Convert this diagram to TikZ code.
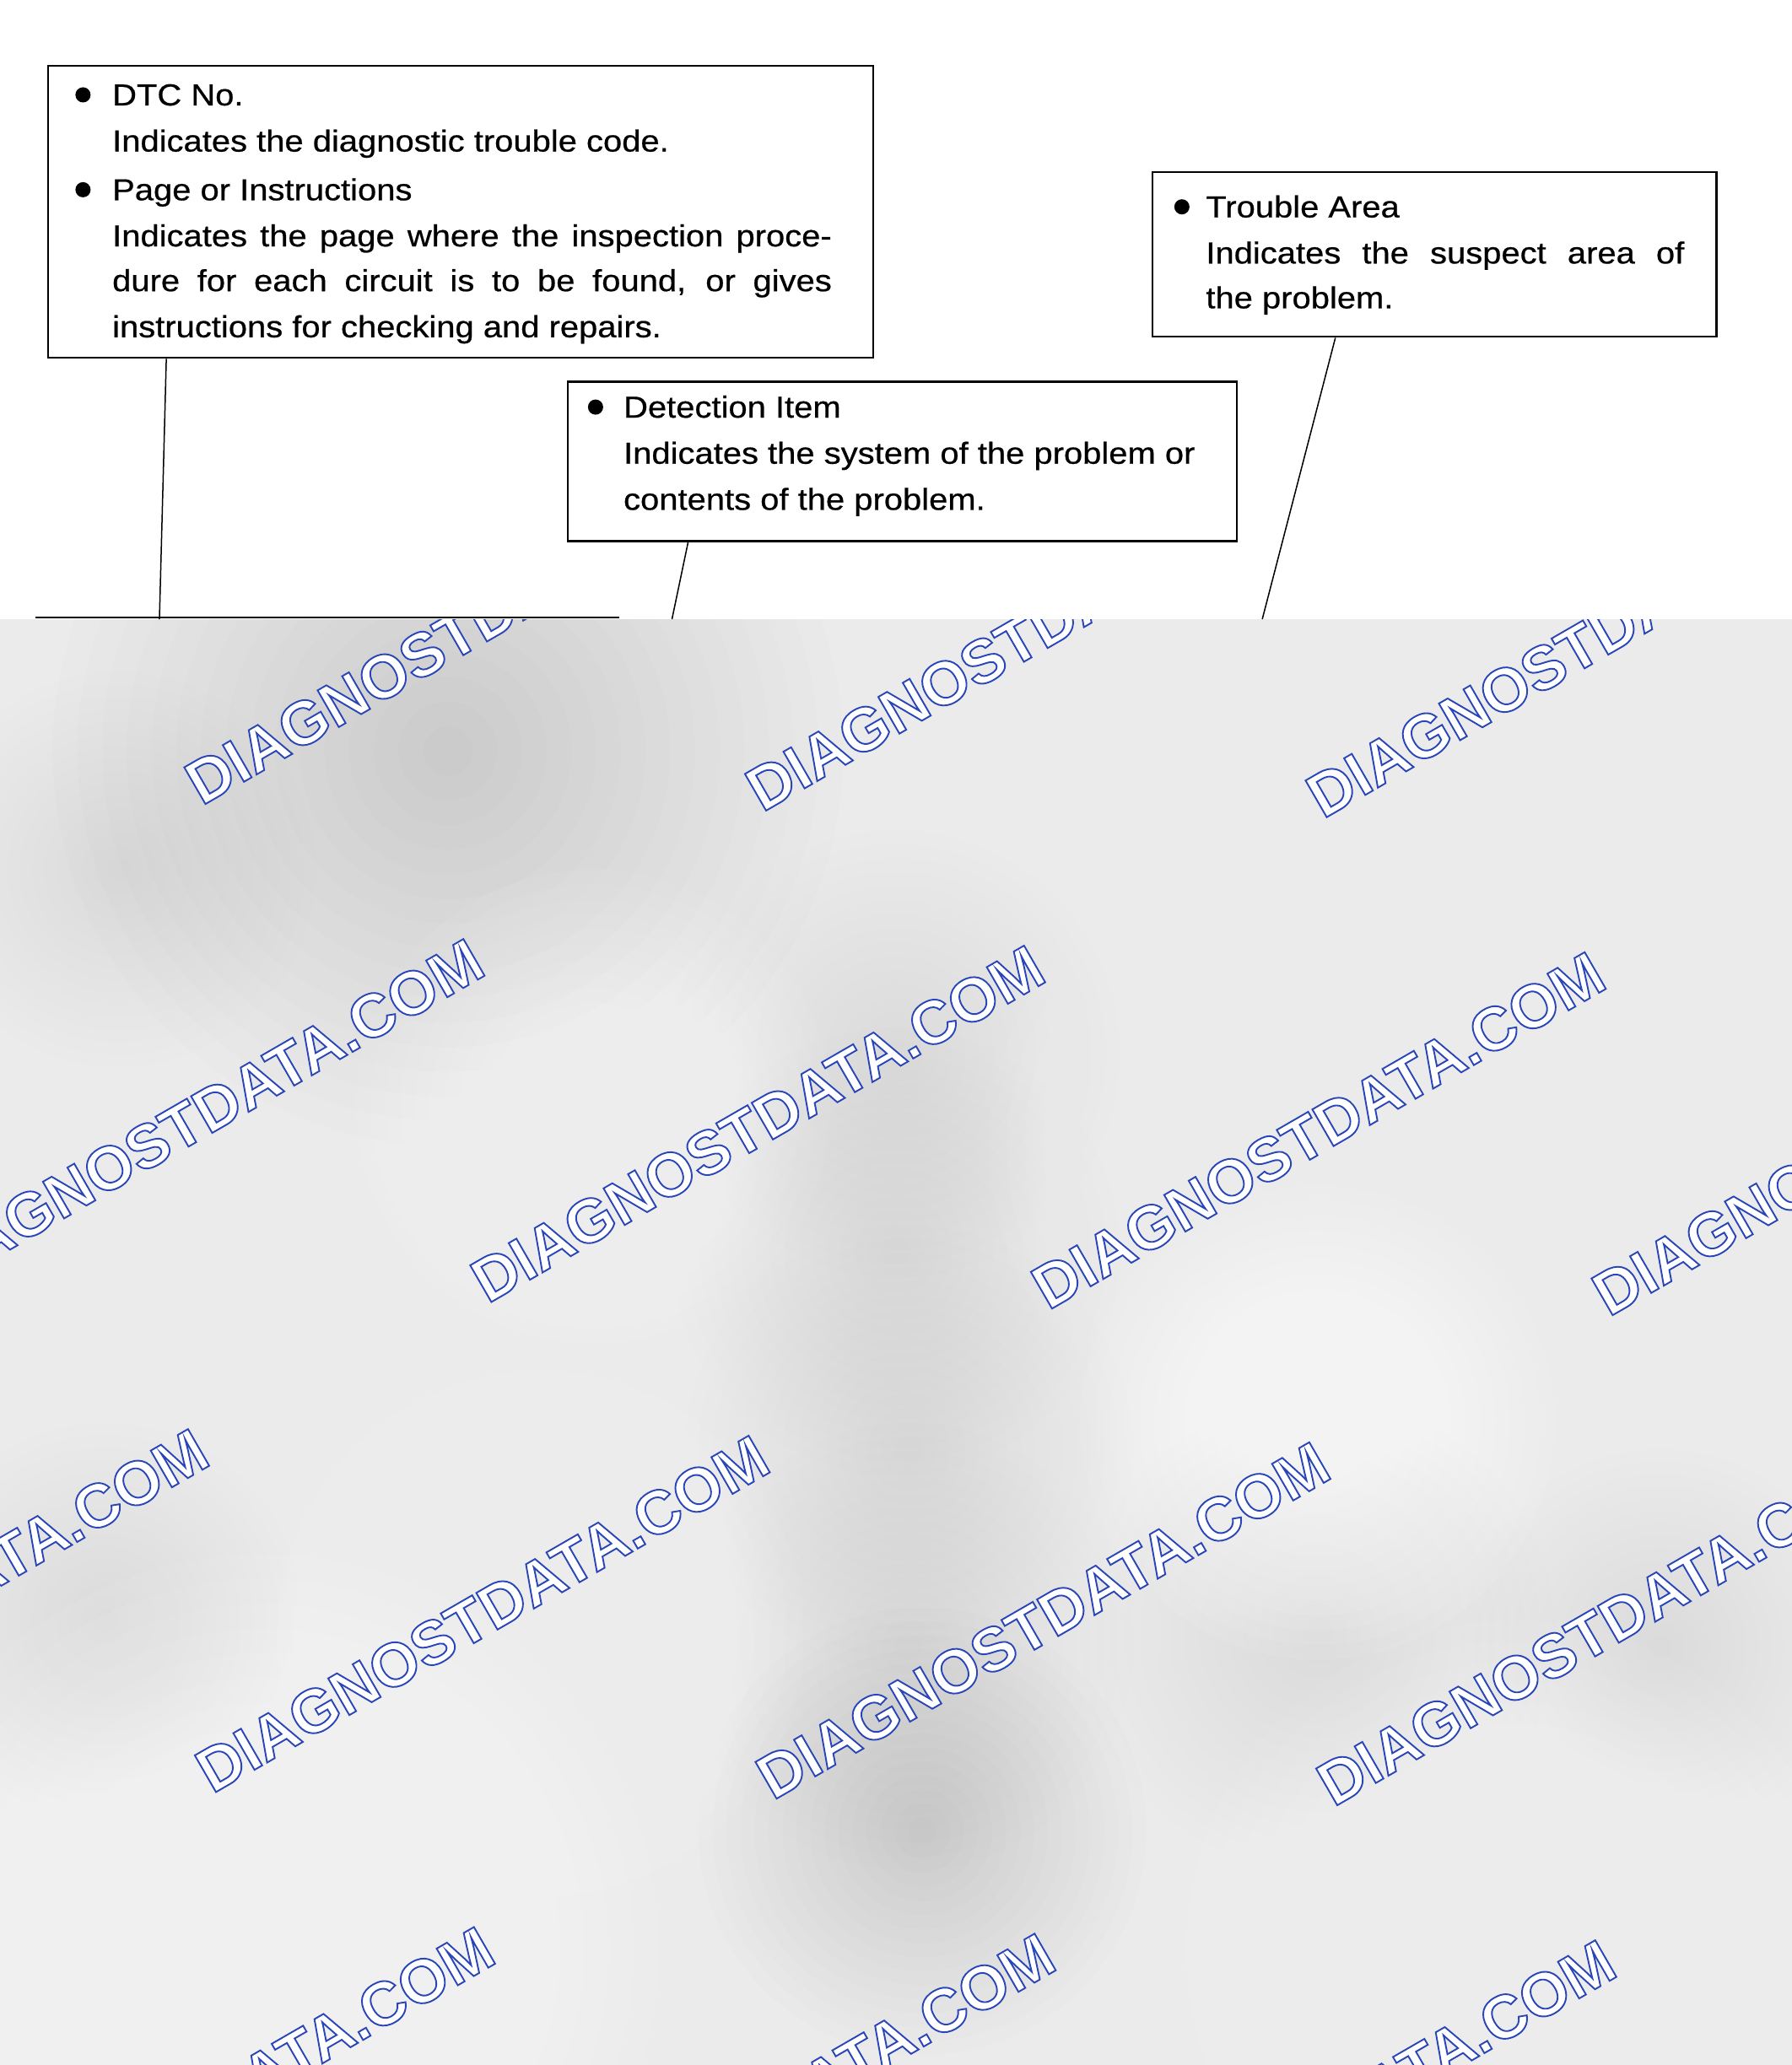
\documentclass[tikz,border=0pt]{standalone}
\usepackage{fontspec}
\setmainfont{Liberation Sans}
\newfontfamily\boxfont[FakeStretch=1.11,FakeBold=0.6]{Liberation Sans}
\newfontfamily\wmfont[FakeBold=2.6]{Liberation Sans Bold}
\usetikzlibrary{calc}
\definecolor{bgbase}{RGB}{235,235,235}
\newcommand\wmtxt{\special{pdf:bcolor [1] [0.16 0.27 0.72]}DIAGNOSTDATA.COM\special{pdf:ecolor}}
\newcommand\blob[5]{\foreach \k in {1,...,16}{\fill[#4, opacity=#5] (#1,#2) circle ({#3*\k/16});}}
\begin{document}
\begin{tikzpicture}[x=0.7809pt,y=-0.7809pt,
  box/.style={draw=black, line width=1.1pt, inner sep=0pt, anchor=north west},
  conn/.style={draw=black, line width=0.75pt},
  ln/.style={anchor=base west, inner sep=0pt, font=\boxfont\fontsize{18}{27}\selectfont},
  bul/.style={circle, fill=black, inner sep=0pt, minimum size=9pt},
  wm/.style={anchor=base west, inner sep=0pt, rotate=30, font=\wmfont\fontsize{36.5}{40}\selectfont}]
\useasboundingbox (0,0) rectangle (1360,1567.5);
% gray lower region
\fill[bgbase] (0,470) rectangle (1360,1567.5);
\begin{scope}
\clip (0,470) rectangle (1360,1567.5);
% darker patches
\blob{340}{570}{300}{black}{0.0067}
\blob{90}{660}{150}{black}{0.003}
\blob{680}{800}{170}{black}{0.005}
\blob{680}{950}{170}{black}{0.005}
\blob{690}{1100}{170}{black}{0.005}
\blob{690}{1250}{170}{black}{0.005}
\blob{700}{1390}{170}{black}{0.006}
\blob{80}{1230}{150}{black}{0.003}
\blob{1000}{1240}{180}{black}{0.003}
\blob{1260}{1250}{150}{black}{0.002}
% lighter patches
\blob{1080}{590}{300}{white}{0.035}
\blob{1250}{640}{150}{white}{0.02}
\blob{450}{840}{180}{white}{0.055}
\blob{970}{870}{220}{white}{0.042}
\blob{410}{1240}{200}{white}{0.05}
\blob{200}{1480}{300}{white}{0.0635}
\blob{1000}{1080}{180}{white}{0.08}
\blob{1150}{1480}{250}{white}{0.05}
% watermarks
\node[wm] (w11) at (153,612) {\wmtxt};
\node[wm] (w12) at (578.5,617) {\wmtxt};
\node[wm] (w13) at (1004,622) {\wmtxt};
\node[wm] (w21) at (-55.5,985) {\wmtxt};
\node[wm] (w22) at (370,990) {\wmtxt};
\node[wm] (w23) at (795.5,995) {\wmtxt};
\node[wm] (w24) at (1221,1000) {\wmtxt};
\node[wm] (w31) at (-264.5,1357) {\wmtxt};
\node[wm] (w32) at (161,1362) {\wmtxt};
\node[wm] (w33) at (586.5,1367) {\wmtxt};
\node[wm] (w34) at (1012,1372) {\wmtxt};
\node[wm] (w41) at (-47.5,1735) {\wmtxt};
\node[wm] (w42) at (378,1740) {\wmtxt};
\node[wm] (w43) at (803.5,1745) {\wmtxt};
\end{scope}
% boxes
\node[box, minimum width=626*0.7809pt, minimum height=222*0.7809pt] (b1) at (36,49) {};
\node[box, minimum width=508*0.7809pt, minimum height=121*0.7809pt] (b2) at (430,289) {};
\node[box, minimum width=428*0.7809pt, minimum height=125*0.7809pt] (b3) at (874,130) {};
% box 1 text
\node[bul] (d1a) at (63,72) {};
\node[bul] (d1b) at (63,144) {};
\node[ln] (t1a) at (85,80) {DTC No.};
\node[ln] (t1b) at (85,115) {Indicates the diagnostic trouble code.};
\node[ln] (t1c) at (85,152) {Page or Instructions};
\node[ln] (t1d) at (85,187) {\makebox[426.4pt][s]{Indicates the page where the inspection proce-}};
\node[ln] (t1e) at (85,221) {\makebox[426.4pt][s]{dure for each circuit is to be found, or gives}};
\node[ln] (t1f) at (85,256) {instructions for checking and repairs.};
% box 2 text
\node[bul] (d2) at (452,309) {};
\node[ln] (t2a) at (473,317) {Detection Item};
\node[ln] (t2b) at (473,352) {Indicates the system of the problem or};
\node[ln] (t2c) at (473,387) {contents of the problem.};
% box 3 text
\node[bul] (d3) at (897,157) {};
\node[ln] (t3a) at (915,165) {Trouble Area};
\node[ln] (t3b) at (915,200) {\makebox[283.5pt][s]{Indicates the suspect area of}};
\node[ln] (t3c) at (915,234) {the problem.};
% connectors
\coordinate (e1) at (121,470);
\coordinate (e2) at (510,470);
\coordinate (e3) at (958,470);
\coordinate (h1) at (27,468.5);
\coordinate (h2) at (470,468.5);
\draw[conn] ($(b1.south west)!0.1438!(b1.south east)$) -- (e1);
\draw[conn] ($(b2.south west)!0.1811!(b2.south east)$) -- (e2);
\draw[conn] ($(b3.south west)!0.3248!(b3.south east)$) -- (e3);
\draw[line width=1.1pt] (h1) -- (h2);
\end{tikzpicture}
\end{document}
